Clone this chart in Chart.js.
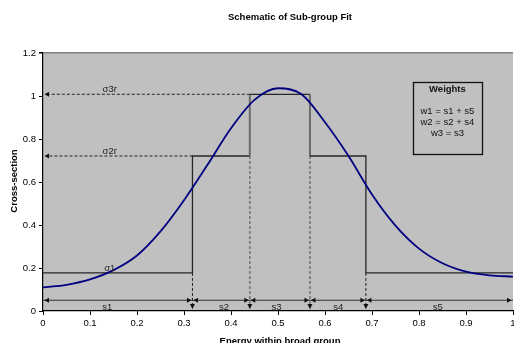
<!DOCTYPE html>
<html>
<head>
<meta charset="utf-8">
<script src="https://cdn.jsdelivr.net/npm/chart.js@4/dist/chart.umd.min.js"></script>
<style>
html,body{margin:0;padding:0;background:#fff;overflow:hidden;}
#wrap{width:514px;height:343px;overflow:hidden;position:relative;}
canvas{display:block;}
</style>
</head>
<body>
<div id="wrap"><canvas id="c" width="560" height="350" style="width:560px;height:350px"></canvas></div>
<script>
// ---- data ----
const titleText = 'Schematic of Sub-group Fit';
const xAxisTitle = 'Energy within broad group';
const yAxisTitle = 'Cross-section';
const xTickLabels = ['0','0.1','0.2','0.3','0.4','0.5','0.6','0.7','0.8','0.9','1'];
const yTickLabels = ['0','0.2','0.4','0.6','0.8','1','1.2'];

const curveX = [0,0.05,0.1,0.15,0.2,0.25,0.3,0.35,0.4,0.45,0.5,0.55,0.6,0.65,0.7,0.75,0.8,0.85,0.9,0.95,1];
const curveY = [0.110,0.122,0.147,0.19,0.258,0.37,0.515,0.68,0.85,0.982,1.036,1.008,0.878,0.721,0.542,0.397,0.29,0.222,0.183,0.166,0.160];

const groupBounds = [0, 0.318, 0.44, 0.568, 0.687, 1];
const groupLevels = [0.177, 0.721, 1.008, 0.721, 0.177];
const segLabels = ['s1','s2','s3','s4','s5'];
const segLabelX = [0.137, 0.385, 0.497, 0.628, 0.84];
const segArrowY = 0.05;

const sigmaLabels = ['σ1','σ2r','σ3r'];
const sigmaValues = [0.177, 0.721, 1.008];
const sigmaLabelX = 0.142;

const weightsTitle = 'Weights';
const weightsLines = ['w1 = s1 + s5','w2 = s2 + s4','w3 = s3'];

// ---- build datasets ----
const FONT = "'Liberation Sans', Arial, sans-serif";
const curveData = curveX.map((x,i)=>({x:x, y:curveY[i]}));
const stepData = [];
for (let i=0;i<groupLevels.length;i++){
  stepData.push({x:groupBounds[i], y:groupLevels[i]});
  stepData.push({x:groupBounds[i+1], y:groupLevels[i]});
}
const datasets = [];
datasets.push({data:curveData, showLine:true, borderColor:'#000080', borderWidth:1.8, pointRadius:0, cubicInterpolationMode:'monotone'});
datasets.push({data:stepData, showLine:true, borderWidth:1.5, pointRadius:0, tension:0,
  segment:{borderColor: c => (c.p0.parsed.x===c.p1.parsed.x && Math.min(c.p0.parsed.y,c.p1.parsed.y)>0.5) ? '#6a6a6a' : '#262626',
           borderWidth: c => (c.p0.parsed.x===c.p1.parsed.x && Math.min(c.p0.parsed.y,c.p1.parsed.y)>0.5) ? 2 : 1.3}});
// dashed vertical guides from step boundaries to the axis
for (let i=1;i<groupBounds.length-1;i++){
  const top = Math.min(groupLevels[i-1], groupLevels[i]);
  const inner = top > 0.5;
  datasets.push({data:[{x:groupBounds[i],y:top},{x:groupBounds[i],y:0.012}], showLine:true, pointRadius:0,
    borderColor: inner ? '#777' : '#222', borderWidth: inner ? 1.6 : 1, borderDash: [3,2]});
}
// dashed horizontal guides for σ2r, σ3r
for (let k=1;k<sigmaValues.length;k++){
  const v = sigmaValues[k];
  const idx = groupLevels.indexOf(v);
  const xs = groupBounds[idx];
  datasets.push({data:[{x:xs,y:v},{x:0.006,y:v}], showLine:true, pointRadius:0, borderColor:'#222', borderWidth:1, borderDash:[3,2]});
}
// s-arrow line
datasets.push({data:[{x:0,y:segArrowY},{x:1,y:segArrowY}], showLine:true, pointRadius:0, borderColor:'#333', borderWidth:1});

// ---- plugins ----
const bgPlugin = {
  id:'bg',
  beforeDraw(chart){
    const {ctx, chartArea:a} = chart;
    ctx.save();
    ctx.fillStyle = '#fff';
    ctx.fillRect(0,0,chart.width,chart.height);
    ctx.fillStyle = '#C0C0C0';
    ctx.fillRect(a.left,a.top,a.right-a.left,a.bottom-a.top);
    ctx.restore();
  }
};
function tri(ctx, tx, ty, dir, len, half){
  ctx.beginPath();
  if (dir==='right'){ ctx.moveTo(tx,ty); ctx.lineTo(tx-len,ty-half); ctx.lineTo(tx-len,ty+half); }
  else if (dir==='left'){ ctx.moveTo(tx,ty); ctx.lineTo(tx+len,ty-half); ctx.lineTo(tx+len,ty+half); }
  else if (dir==='down'){ ctx.moveTo(tx,ty); ctx.lineTo(tx-half,ty-len); ctx.lineTo(tx+half,ty-len); }
  ctx.closePath(); ctx.fill();
}
const annPlugin = {
  id:'ann',
  afterDatasetsDraw(chart){
    const {ctx, scales:{x, y}} = chart;
    ctx.save();
    ctx.fillStyle = '#111';
    const ay = y.getPixelForValue(segArrowY);
    for (let i=0;i<groupBounds.length;i++){
      const bx = x.getPixelForValue(groupBounds[i]);
      if (i>0) tri(ctx, i===groupBounds.length-1 ? bx-1.5 : bx-1, ay, 'right', 4.5, 2.5);
      if (i<groupBounds.length-1) tri(ctx, i===0 ? bx+1.5 : bx+1, ay, 'left', 4.5, 2.5);
    }
    for (let i=1;i<groupBounds.length-1;i++){
      const bx = x.getPixelForValue(groupBounds[i]);
      tri(ctx, bx, y.getPixelForValue(0)-2, 'down', 5, 2.5);
    }
    for (let k=1;k<sigmaValues.length;k++){
      tri(ctx, x.getPixelForValue(0)+1.5, y.getPixelForValue(sigmaValues[k]), 'left', 4.5, 2.5);
    }
    ctx.fillStyle = '#222';
    ctx.font = '9.5px ' + FONT;
    ctx.textAlign = 'center';
    ctx.textBaseline = 'alphabetic';
    for (let k=0;k<sigmaLabels.length;k++){
      ctx.fillText(sigmaLabels[k], x.getPixelForValue(sigmaLabelX), y.getPixelForValue(sigmaValues[k]) - 2);
    }
    for (let i=0;i<segLabels.length;i++){
      ctx.fillText(segLabels[i], x.getPixelForValue(segLabelX[i]), y.getPixelForValue(0) - 1.5);
    }
    const bx0 = x.getPixelForValue(0.787), bx1 = x.getPixelForValue(0.934);
    const by0 = y.getPixelForValue(1.064), by1 = y.getPixelForValue(0.727);
    ctx.strokeStyle = '#111';
    ctx.lineWidth = 1.3;
    ctx.strokeRect(Math.round(bx0)+0.5, Math.round(by0)+0.5, Math.round(bx1-bx0), Math.round(by1-by0));
    const cx = (bx0+bx1)/2;
    ctx.fillStyle = '#111';
    ctx.textBaseline = 'middle';
    ctx.font = 'bold 9.5px ' + FONT;
    ctx.fillText(weightsTitle, cx, y.getPixelForValue(1.032));
    ctx.font = '9.5px ' + FONT;
    const wy = [0.93, 0.876, 0.827];
    for (let i=0;i<weightsLines.length;i++) ctx.fillText(weightsLines[i], cx, y.getPixelForValue(wy[i]));
    ctx.restore();
  },
  afterDraw(chart){
    const {ctx} = chart;
    ctx.save();
    ctx.fillStyle = '#000';
    ctx.textAlign = 'center';
    ctx.textBaseline = 'middle';
    ctx.font = 'bold 9.5px ' + FONT;
    ctx.fillText(titleText, 290, 17);
    ctx.fillText(xAxisTitle, 280, 341);
    ctx.translate(14, 181);
    ctx.rotate(-Math.PI/2);
    ctx.fillText(yAxisTitle, 0, 0);
    ctx.restore();
  }
};

new Chart(document.getElementById('c'), {
  type:'scatter',
  data:{datasets:datasets},
  options:{
    responsive:false,
    devicePixelRatio:1,
    animation:false,
    events:[],
    layout:{padding:{top:53, right:47, bottom:0, left:0}},
    plugins:{legend:{display:false}, tooltip:{enabled:false}, title:{display:false}},
    scales:{
      x:{
        type:'linear', min:0, max:1,
        afterBuildTicks: s => { s.ticks = xTickLabels.map(l => ({value: parseFloat(l)})); },
        afterFit: s => { s.height = 39; },
        ticks:{callback:(v,i)=>xTickLabels[i], font:{family:FONT, size:9.5}, color:'#000', padding:3, maxRotation:0, autoSkip:false},
        grid:{drawOnChartArea:false, tickLength:4, color:'#000', tickColor:'#000'},
        border:{color:'#000', width:1.2}
      },
      y:{
        type:'linear', min:0, max:1.2,
        afterBuildTicks: s => { s.ticks = yTickLabels.map(l => ({value: parseFloat(l)})); },
        afterFit: s => { s.width = 43; },
        ticks:{callback:(v,i)=>yTickLabels[i], font:{family:FONT, size:9.5}, color:'#000', padding:3, autoSkip:false},
        grid:{drawOnChartArea:true, tickLength:4, tickColor:'#000',
              color: c => (c.tick && c.tick.value===1.2) ? '#808080' : 'rgba(0,0,0,0)', lineWidth: c => (c.tick && c.tick.value===1.2) ? 1.5 : 1},
        border:{color:'#000', width:1.2}
      }
    }
  },
  plugins:[bgPlugin, annPlugin]
});
</script>
</body>
</html>
